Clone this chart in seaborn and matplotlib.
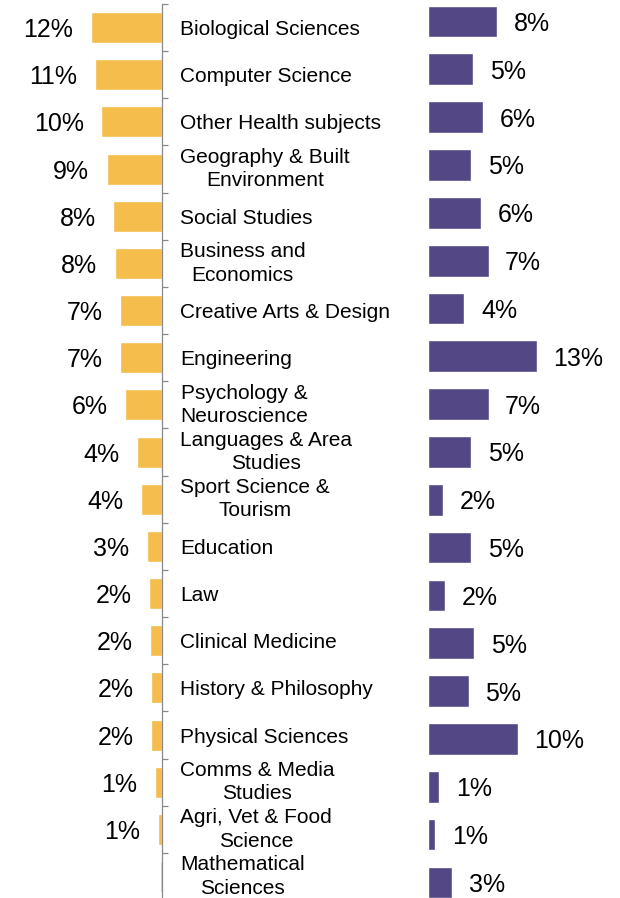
import numpy as np
import pandas as pd
import matplotlib
matplotlib.use('Agg')
import matplotlib.pyplot as plt
import matplotlib.transforms as mtrans
import seaborn as sns

# subjects, top to bottom
subjects = ['Biological Sciences', 'Computer Science', 'Other Health subjects',
            'Geography & Built\nEnvironment', 'Social Studies', 'Business and\nEconomics',
            'Creative Arts & Design', 'Engineering', 'Psychology &\nNeuroscience',
            'Languages & Area\nStudies', 'Sport Science &\nTourism', 'Education', 'Law',
            'Clinical Medicine', 'History & Philosophy', 'Physical Sciences',
            'Comms & Media\nStudies', 'Agri, Vet & Food\nScience', 'Mathematical\nSciences']
left_vals = [12.1, 11.4, 10.3, 9.4, 8.3, 8.0, 7.1, 7.1, 6.2, 4.3, 3.5, 2.6,
             2.2, 2.0, 1.9, 1.9, 1.2, 0.7, 0.3]
right_vals = [8.0, 5.2, 6.4, 5.0, 6.1, 7.0, 4.2, 12.6, 7.0, 5.0, 1.7, 5.0,
              1.9, 5.3, 4.7, 10.4, 1.3, 0.8, 2.8]
left_labels = [f'{v:.0f}%' for v in left_vals[:-1]] + ['']
right_labels = [f'{v:.0f}%' for v in right_vals]

orange = '#F4BD4C'
purple = '#544785'

sns.set_style('white')
plt.rcParams['font.family'] = ['Liberation Sans', 'DejaVu Sans']
plt.rcParams['text.color'] = 'black'

df = pd.DataFrame({'subject': subjects, 'left': left_vals, 'right': right_vals})

W, H = 620, 898
fig = plt.figure(figsize=(W / 100, H / 100), dpi=100)

# left panel (bars grow leftwards)
axl = fig.add_axes([0, 0, 162 / W, 894 / H])
sns.barplot(data=df, x='left', y='subject', orient='h', color=orange,
            saturation=1, width=0.657, ax=axl)
axl.set_xlim(162 / 5.9, 0)
axl.set_ylim((H - 27.5) / 47.17, -0.5)
for s in ['top', 'left', 'bottom']:
    axl.spines[s].set_visible(False)
axl.spines['right'].set_color('#898989')
axl.spines['right'].set_linewidth(0.9)
axl.yaxis.set_ticks_position('right')
axl.set_yticks(np.arange(-0.5, 18, 1), labels=[])
axl.tick_params(axis='y', length=4, width=0.9, color='#898989', direction='out')
axl.set_xticks([])
axl.set_xlabel('')
axl.set_ylabel('')
txts = axl.bar_label(axl.containers[0], labels=left_labels, padding=12.5,
                     fontsize=18, color='black')
for t in txts:
    t.set_va('center_baseline')

# subject names in the middle
tr = mtrans.blended_transform_factory(fig.transFigure, axl.transData)
for i, name in enumerate(subjects):
    two = '\n' in name
    axl.text(180 / W, i, name, transform=tr, ha='left',
             va='center' if two else 'center_baseline', linespacing=1.3,
             multialignment='center', fontsize=15, color='black', clip_on=False)

# right panel
axr = fig.add_axes([428.3 / W, 0, (W - 428.3) / W, 1])
sns.barplot(data=df, x='right', y='subject', orient='h', color=purple,
            saturation=1, width=0.663, ax=axr)
axr.set_xlim(0, (W - 428.3) / 8.6)
axr.set_ylim((H - 21.5) / 47.83, -21.5 / 47.83)
sns.despine(ax=axr, left=True, bottom=True)
axr.set_xticks([])
axr.set_yticks([])
axr.set_xlabel('')
axr.set_ylabel('')
txts = axr.bar_label(axr.containers[0], labels=right_labels, padding=12,
                     fontsize=18, color='black')
for t in txts:
    t.set_va('center_baseline')

fig.savefig('out.png', dpi=100)
